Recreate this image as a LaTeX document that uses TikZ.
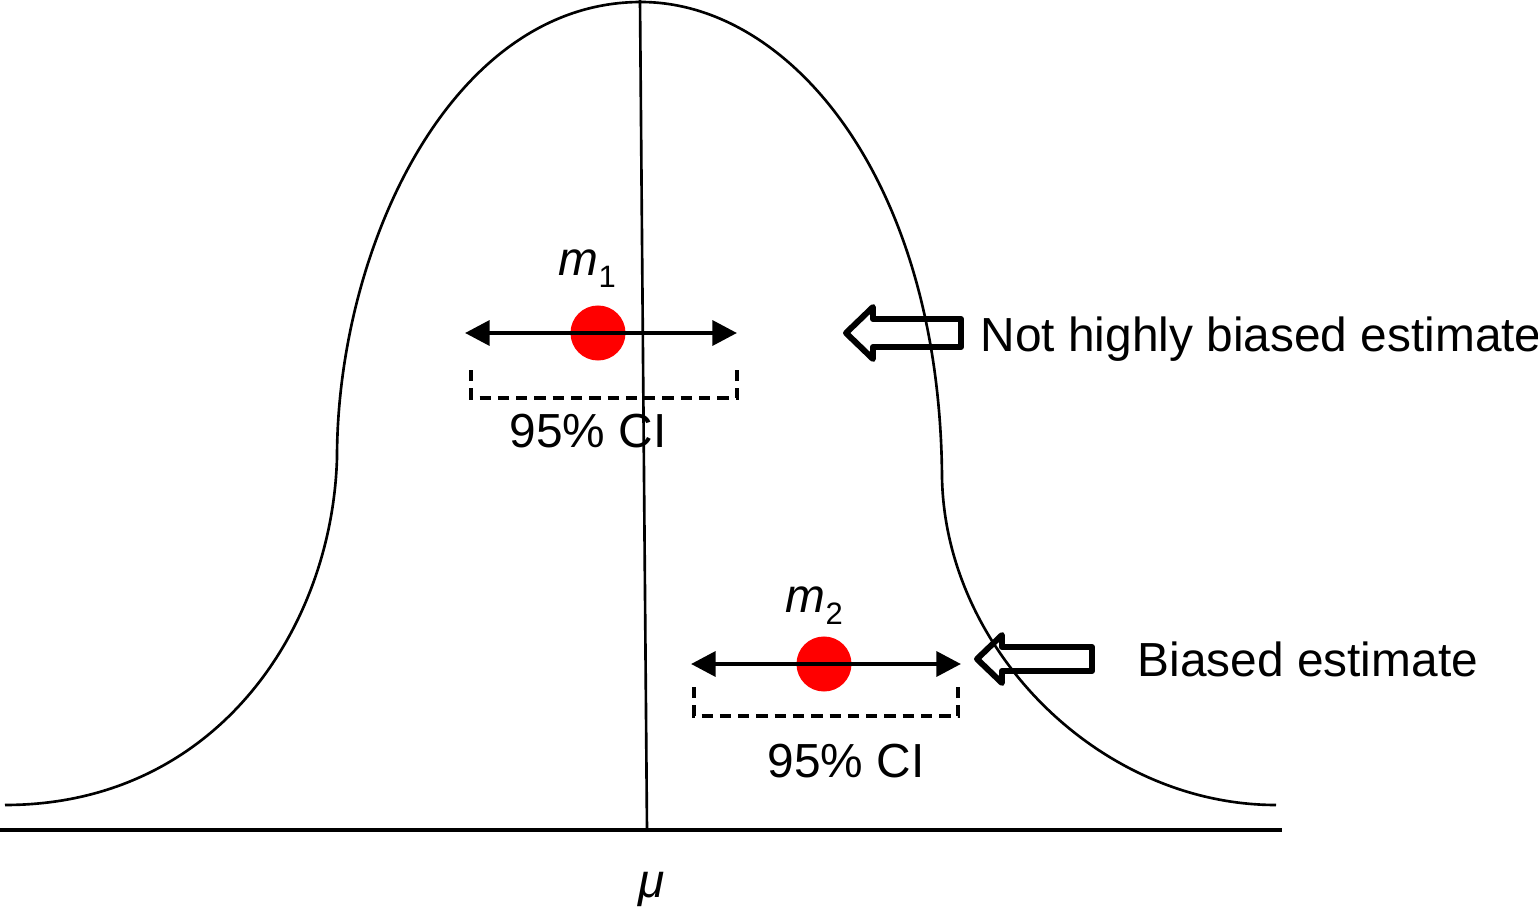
\documentclass[tikz,border=0pt]{standalone}
\usepackage{fontspec}
\setmainfont{Liberation Sans}
\usetikzlibrary{arrows.meta}
\tikzset{
  curve/.style={line width=0.75pt, line join=round},
  axisline/.style={line width=0.9pt},
  muline/.style={line width=0.75pt},
  ciarrow/.style={line width=1.3pt, {Triangle[length=7pt,width=7pt]}-{Triangle[length=7pt,width=7pt]}},
  cibox/.style={line width=1pt, dash pattern=on 3.2pt off 2pt},
  hollow/.style={line width=1.7pt, line join=round, line cap=round},
  estdot/.style={circle, fill=red, draw=none, minimum size=0.55cm, inner sep=0pt},
  lbl/.style={inner sep=0pt, font=\fontsize{13.6}{15}\selectfont},
}
\newcommand{\msub}[2]{\textit{#1}\raisebox{-0.26em}{\fontsize{8.8}{9}\selectfont #2}}
\begin{document}
\begin{tikzpicture}[x=0.01cm, y=-0.01cm]
\useasboundingbox (0,0) rectangle (1538,912);
% bell curve
\coordinate (cL) at (5,805);
\coordinate (iL) at (337,458);
\coordinate (pk) at (641,2);
\coordinate (iR) at (942,477);
\coordinate (cR) at (1276,805);
\draw[curve] (cL) .. controls (215,805) and (332,630) .. (iL)
  .. controls (337,250) and (450,2) .. (pk)
  .. controls (790,2) and (940,180) .. (iR)
  .. controls (945,650) and (1100,805) .. (cR);
% axis and mean line
\coordinate (axL) at (0,830);
\coordinate (axR) at (1282,830);
\draw[axisline] (axL) -- (axR);
\coordinate (muTop) at (640,0);
\coordinate (muBot) at (647,830);
\draw[muline] (muTop) -- (muBot);
\node[lbl, anchor=base] (mu) at (652,897) {\textit{μ}};

% estimate 1
\node[estdot] (dot1) at (598,333) {};
\coordinate (a1L) at (465,333);
\coordinate (a1R) at (737,333);
\draw[ciarrow] (a1L) -- (a1R);
\coordinate (b1a) at (471,370);
\coordinate (b1b) at (471,398);
\coordinate (b1c) at (737,398);
\coordinate (b1d) at (737,370);
\draw[cibox] (b1a) -- (b1b) -- (b1c) -- (b1d);
\node[lbl, anchor=base west] (m1) at (558,275) {\msub{m}{1}};
\node[lbl, anchor=base] (ci1) at (588,447) {95\% CI};

% estimate 2
\node[estdot] (dot2) at (824,664) {};
\coordinate (a2L) at (691,664);
\coordinate (a2R) at (961,664);
\draw[ciarrow] (a2L) -- (a2R);
\coordinate (b2a) at (694,687);
\coordinate (b2b) at (694,716);
\coordinate (b2c) at (958,716);
\coordinate (b2d) at (958,687);
\draw[cibox] (b2a) -- (b2b) -- (b2c) -- (b2d);
\node[lbl, anchor=base west] (m2) at (785,612) {\msub{m}{2}};
\node[lbl, anchor=base] (ci2) at (846,777) {95\% CI};

% hollow arrows and labels
\draw[hollow] (846,333) -- (873,307) -- (873,319) -- (961,319) -- (961,347)
  -- (873,347) -- (873,359) -- cycle;
\node[lbl, anchor=base west] (lab1) at (980,351) {Not highly biased estimate};
\draw[hollow] (977,659) -- (1002,635) -- (1002,647) -- (1092,647) -- (1092,671)
  -- (1002,671) -- (1002,683) -- cycle;
\node[lbl, anchor=base west] (lab2) at (1137,676) {Biased estimate};
\end{tikzpicture}
\end{document}
